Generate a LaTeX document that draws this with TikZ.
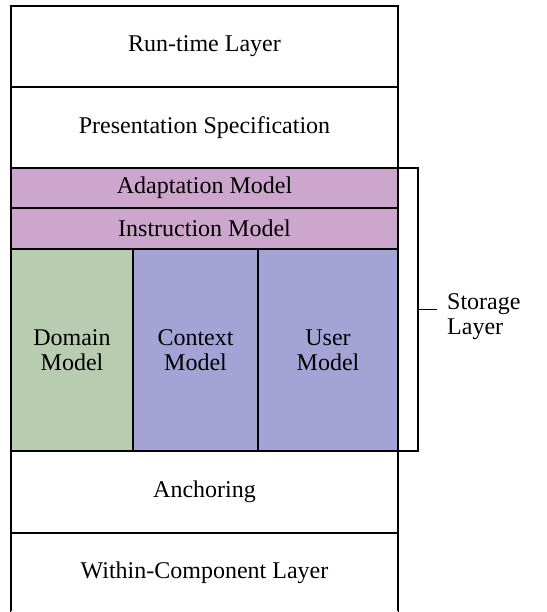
\documentclass[tikz,border=0pt]{standalone}
\usepackage{fontspec}
\setmainfont{Liberation Serif}
\usetikzlibrary{positioning,calc}

\definecolor{lilac}{RGB}{205,166,206}
\definecolor{sage}{RGB}{184,204,176}
\definecolor{periwinkle}{RGB}{163,163,214}

\begin{document}
\begin{tikzpicture}[x=1pt,y=-1pt,
	layer/.style={draw,line width=1.6pt,rectangle,inner sep=0pt,outer sep=0pt,
		anchor=north west,align=center,font=\fontsize{24}{25}\selectfont},
	full/.style={layer,minimum width=387pt}]

\useasboundingbox (0,0) rectangle (546,612);
\clip (0,0) rectangle (546,612);

%%%%%%%%%%%%%%%%%%%%%%%%%%%%%%%%%%%%%%%%%%%%%%%%%%%%%%%%%%%%%%%%

\node [full,minimum height=81pt] at (11,6)   (rt) {Run-time Layer};
\node [full,minimum height=81pt] at (11,87)  (ps) {Presentation Specification};
\node [full,fill=lilac,minimum height=40pt] at (11,168) (am) {Adaptation Model};
\node [full,fill=lilac,minimum height=41pt] at (11,208) (im) {Instruction Model};

\node [layer,fill=sage,minimum width=122pt,minimum height=202pt] at (11,249) (dm) {Domain\\Model};
\node [layer,fill=periwinkle,minimum width=125pt,minimum height=202pt] at (133,249) (cm) {Context\\Model};
\node [layer,fill=periwinkle,minimum width=140pt,minimum height=202pt] at (258,249) (um) {User\\Model};

\node [full,minimum height=82pt] at (11,451) (an) {Anchoring};
\node [full,minimum height=79pt] at (11,533) (wc) {Within-Component Layer};
\draw [line width=1.6pt,white] (wc.south west) -- (wc.south east);

%%%%%%%%%%%%%%%%%%%%%%%%%%%%%%%%%%%%%%%%%%%%%%%%%%%%%%%%%%%%%%%%

\coordinate (bt) at (418,168);
\coordinate (bb) at (418,451);
\coordinate (bm) at ($(bt)!0.5!(bb)$);

\node [inner sep=0pt,anchor=west,align=left,font=\fontsize{24}{25}\selectfont] at (447,317) (sl) {Storage\\Layer};

\draw [line width=1.6pt] (am.north east) -- (bt) -- (bb) -- (um.south east);
\draw [line width=1.6pt,shorten >=10pt] (bm) -- (bm -| sl.west);

\end{tikzpicture}
\end{document}
